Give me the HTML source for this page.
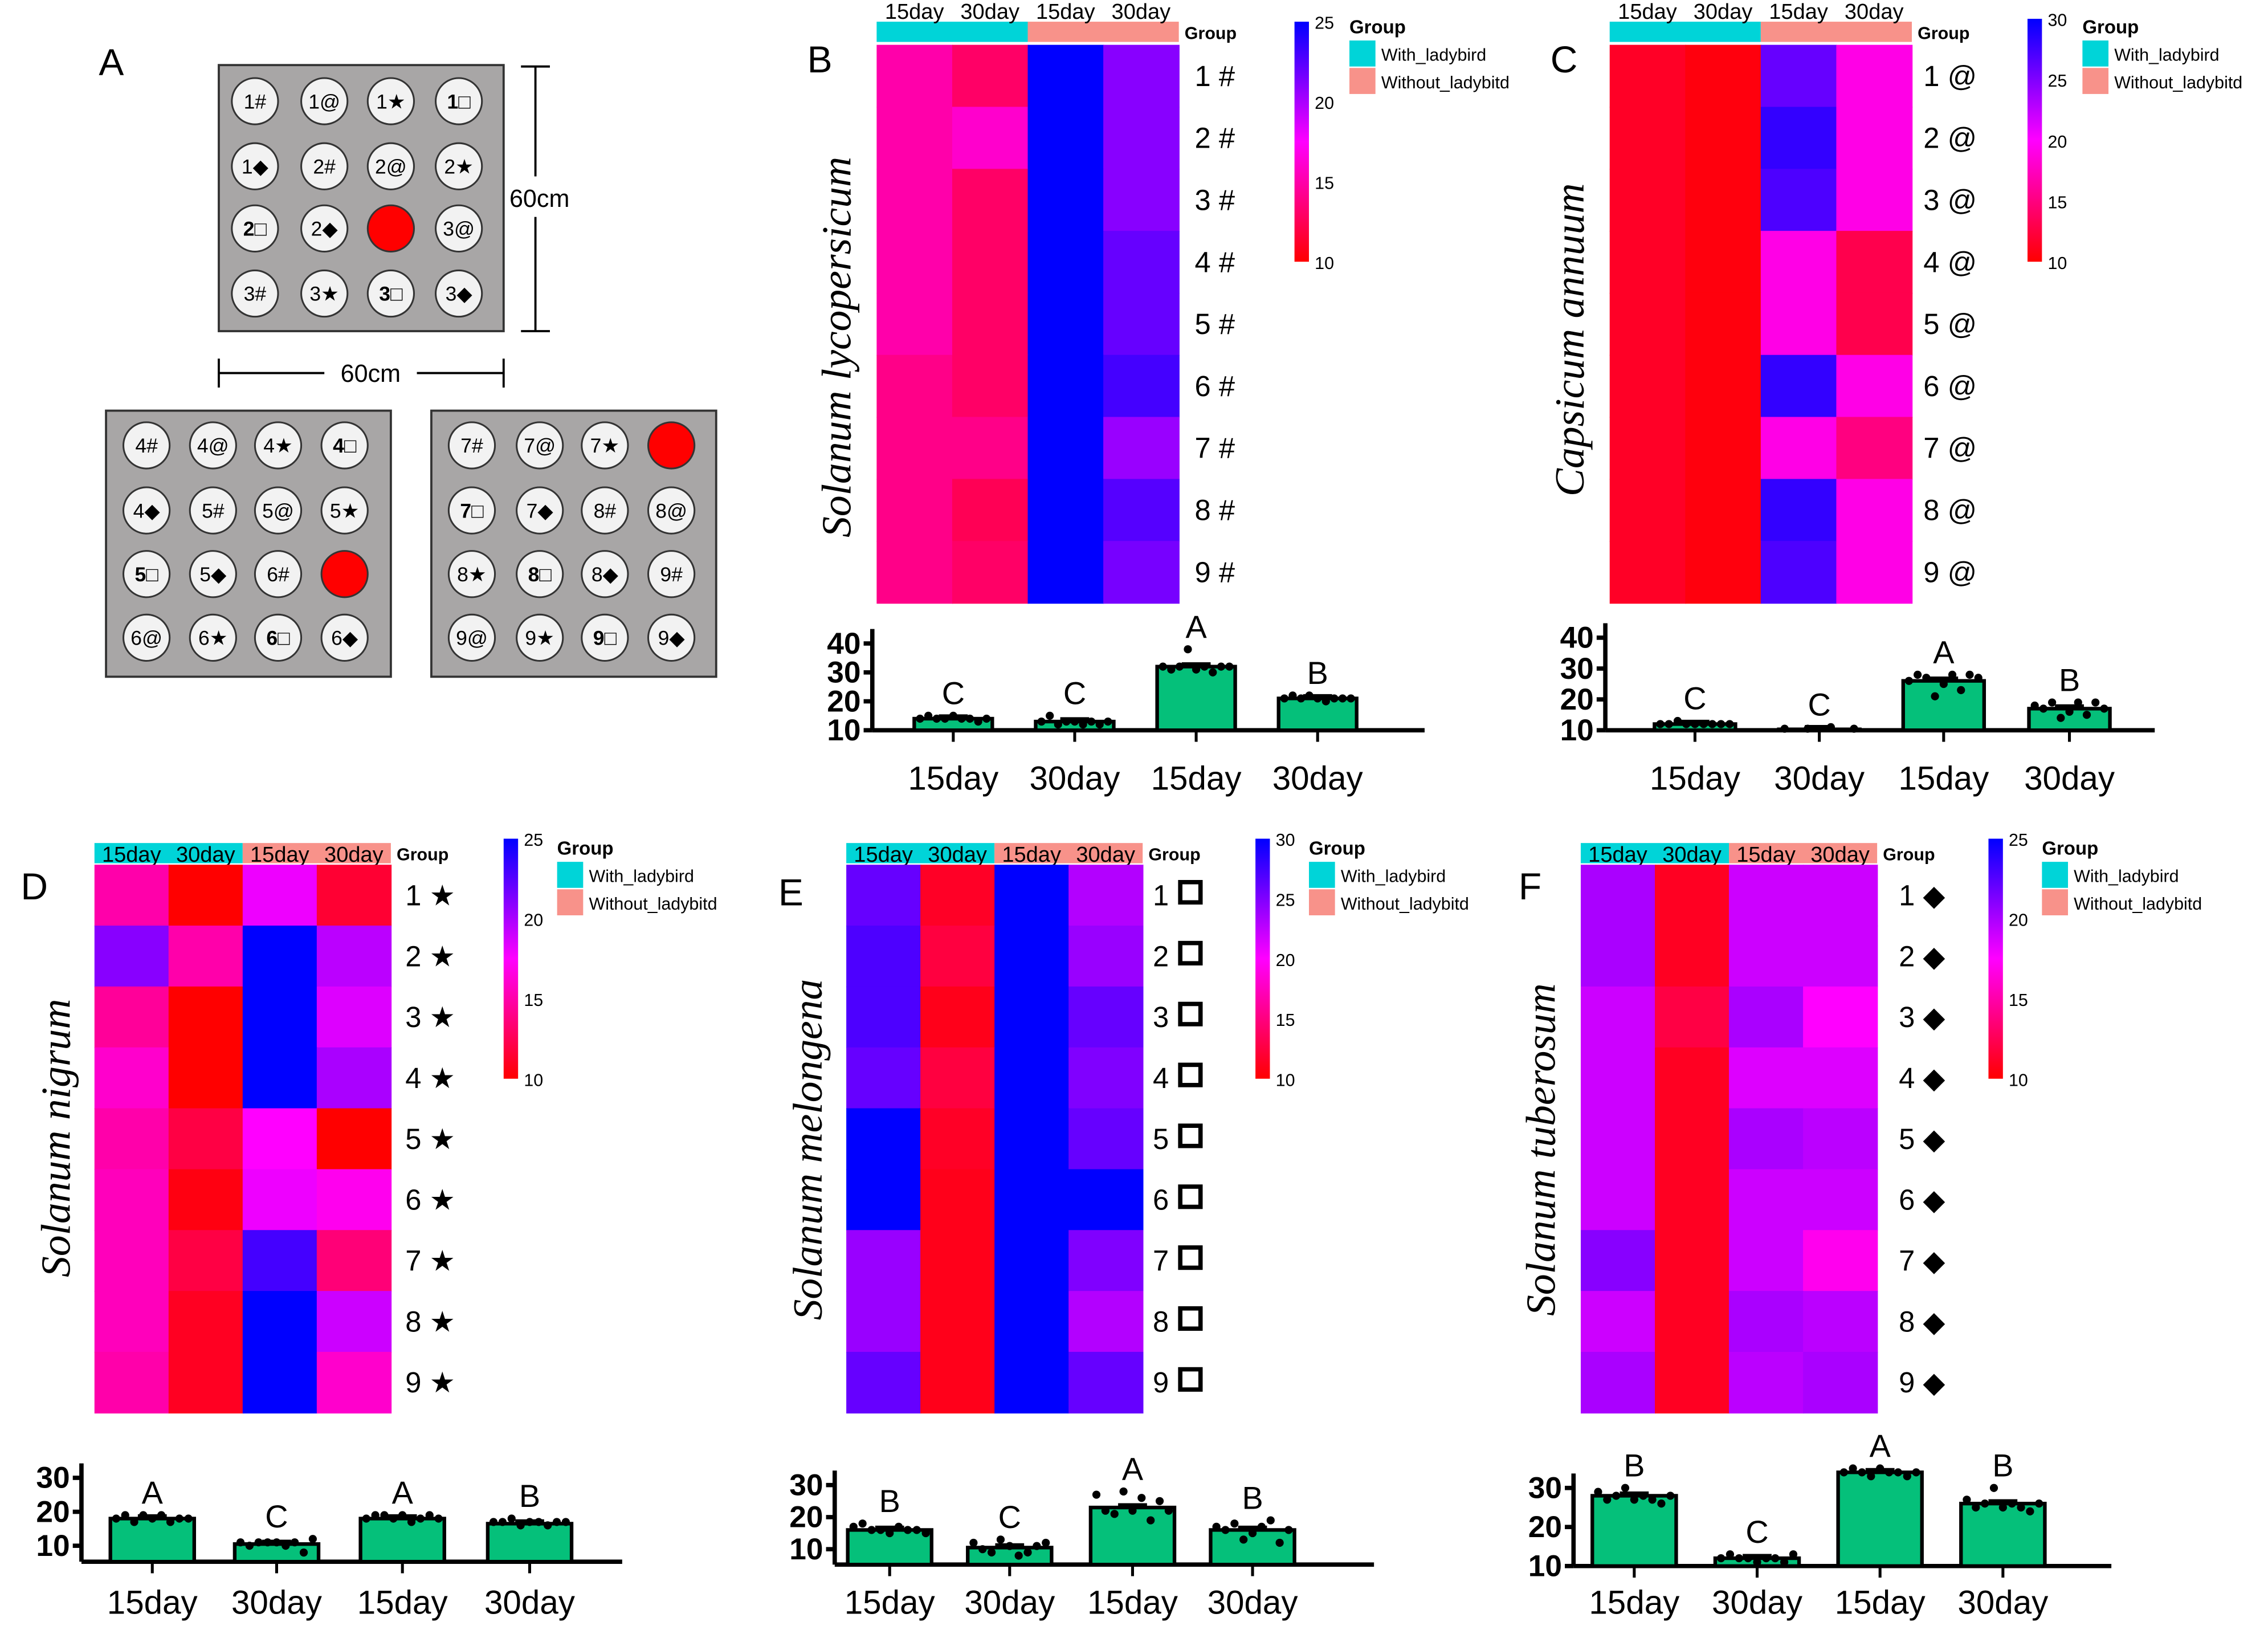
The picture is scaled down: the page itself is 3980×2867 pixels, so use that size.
<!DOCTYPE html>
<html><head><meta charset="utf-8"><style>html,body{margin:0;padding:0;background:#fff}svg{display:block}</style></head>
<body>
<svg id="fig" xmlns="http://www.w3.org/2000/svg" width="3980" height="2867" viewBox="0 0 1568 1130" font-family="Liberation Sans, sans-serif">
<defs>
<linearGradient id="cbar" x1="0" y1="1" x2="0" y2="0"><stop offset="0" stop-color="#ff0000"/><stop offset="0.5" stop-color="#ff00ff"/><stop offset="1" stop-color="#0000ff"/></linearGradient>
</defs>
<rect width="1568" height="1130" fill="#fff"/>
<g id="panelA"></g>
<g id="charts"></g>
</svg>
<script>
// ---------- DATA ----------
const colLabels = ["15day","30day","15day","30day"];
const barLetters = {B:["C","C","A","B"],C:["C","C","A","B"],D:["A","C","A","B"],E:["B","C","A","B"],F:["B","C","A","B"]};
const heatB = [[15,13,25,21],[15,16,25,21],[15,13,25,21],[15,13,25,22],[15,13,25,22],[14,13,25,23],[14,14,25,20.5],[14,12.5,25,22.5],[14,13,25,21.5]];
const heatC = [[11.5,10.5,26,19],[11.5,10.5,28,19],[11.5,10.5,27,19],[11.5,10.5,19,13],[11.5,10.5,19,13],[11.5,10.5,28,19],[11.5,10.5,19,15],[11.5,10.5,28,19],[11.5,10.5,27,19]];
const heatD = [[15,10,18,11.5],[21,15,25,19.5],[14.5,10,25,18.5],[16,10,25,20],[15,12,17.5,10],[15.5,10.5,18,17],[15.5,12,23,13.5],[15.5,11,25,19],[15,11,25,16]];
const heatE = [[26,11.5,30,23],[27,12.5,30,24],[27,11,30,26],[26,12.5,30,25],[30,11.5,30,26],[30,11,30,30],[24,11,30,25],[24,11,30,23],[26,11,30,26]];
const heatF = [[20,11,19,19],[20,11,19,19],[19,12,20,17.5],[19,11,18.5,18.5],[19,11,20,19.5],[19,11,19,19],[21,11,19,17],[19,11,20,19.5],[20,11,19.5,20]];
const barsB = [14,13,32,21];
const barsC = [12,10.3,26,17];
const barsD = [18,10.5,18,16.5];
const barsE = [16,10.5,23,16];
const barsF = [28,12,34,26];
const dotsB = [[14,15,14,14,15,14,14,13,14],[13,15,12,13,13,12,13,12,13],[32,31,32,38,31,32,30,32,32],[21,22,21,22,21,20,21,21,21]];
const dotsC = [[12,12,13,12,12,12,12,12,12],[10.5,10.5,11,10.5],[26,28,27,21,25,28,23,28,27],[18,17,19,14,16,19,15,19,17]];
const dotsD = [[18,19,17,19,18,19,17,18,18],[11,10,11,11,11,10,11,8,12],[18,19,19,18,19,17,18,19,18],[17,17,18,16,17,17,16,17,17]];
const dotsE = [[17,18,16,16,15,17,16,16,15],[12,10,9,13,11,8,9,11,12],[27,22,21,28,22,26,19,25,22],[17,16,18,13,15,17,19,12,16]];
const dotsF = [[29,27,28,30,27,28,27,26,28],[12,13,12,12,11,12,12,11,13],[34,35,34,33,35,34,34,33,34],[27,25,26,30,25,26,25,24,26]];
const tickB = [10,20,30,40], tickC=[10,20,30,40], tickD=[10,20,30], tickE=[10,20,30], tickF=[10,20,30];
// ---------- LAYOUT ----------
const NS="http://www.w3.org/2000/svg";
function mk(tag,attrs,parent,txt){const e=document.createElementNS(NS,tag);for(const k in attrs)e.setAttribute(k,attrs[k]);if(txt!==undefined)e.textContent=txt;parent.appendChild(e);return e;}
function cmap(v,lo,hi){let t=Math.max(0,Math.min(1,(v-lo)/(hi-lo)));let r,b;if(t<0.5){r=255;b=Math.round(510*t);}else{r=Math.round(255*(2-2*t));b=255;}return `rgb(${r},0,${b})`;}
const panels=[
 {id:"B",heat:heatB,bars:barsB,dots:dotsB,ticks:tickB,hx:606,hy:31,hw:209,hh:386,annY:15,annLblY:13,lo:10,hi:25,cbx:895,cby:15,cbh:166,lgx:933,lgy:12,rowX:826,sym:"#",sp:"Solanum lycopersicum",spx:588,spy:240,lx:558,ly:50,
  ax:603,axEnd:985,base:505,vmin:10,vmax:40,ytop:445,cx:[659,743,827,911],bw:54,xly:546},
 {id:"C",heat:heatC,bars:barsC,dots:dotsC,ticks:tickC,hx:1113,hy:31,hw:209,hh:386,annY:15,annLblY:13,lo:10,hi:30,cbx:1402,cby:13,cbh:168,lgx:1440,lgy:12,rowX:1330,sym:"@",sp:"Capsicum annuum",spx:1095,spy:235,lx:1072,ly:50,
  ax:1110,axEnd:1490,base:505,vmin:10,vmax:40,ytop:441,cx:[1172,1258,1344,1431],bw:56,xly:546},
 {id:"D",heat:heatD,bars:barsD,dots:dotsD,ticks:tickD,hx:65,hy:598,hw:205,hh:379,annY:583,annLblY:596,lo:10,hi:25,cbx:348,cby:580,cbh:166,lgx:385,lgy:580,rowX:280,sym:"★",sp:"Solanum nigrum",spx:48,spy:787,lx:14,ly:622,
  ax:56,axEnd:430,base:1080,vmin:5.3,vmax:30,ytop:1022,cx:[105,191,278,366],bw:58,xly:1116},
 {id:"E",heat:heatE,bars:barsE,dots:dotsE,ticks:tickE,hx:585,hy:598,hw:205,hh:379,annY:583,annLblY:596,lo:10,hi:30,cbx:868,cby:580,cbh:166,lgx:905,lgy:580,rowX:797,sym:"□",sp:"Solanum melongena",spx:568,spy:795,lx:538,ly:626,
  ax:577,axEnd:950,base:1082,vmin:5.2,vmax:30,ytop:1027,cx:[615,698,783,866],bw:58,xly:1116},
 {id:"F",heat:heatF,bars:barsF,dots:dotsF,ticks:tickF,hx:1093,hy:598,hw:205,hh:379,annY:583,annLblY:596,lo:10,hi:25,cbx:1375,cby:580,cbh:166,lgx:1412,lgy:580,rowX:1313,sym:"◆",sp:"Solanum tuberosum",spx:1075,spy:795,lx:1050,ly:622,
  ax:1088,axEnd:1460,base:1083,vmin:10,vmax:30,ytop:1029,cx:[1130,1215,1300,1385],bw:58,xly:1116}
];
const root=document.getElementById('charts');
panels.forEach(p=>{
 const g=mk('g',{},root);
 
 
 const lt=mk('text',{x:p.lx,y:p.ly,'font-size':26},g,p.id);
 
 
 const cw=p.hw/4, rh=p.hh/9;
 const a1=mk('rect',{x:p.hx,y:p.annY,width:cw*2,height:14,fill:'#00d4d8'},g);
 
 
 const a2=mk('rect',{x:p.hx+cw*2,y:p.annY,width:cw*2,height:14,fill:'#f8928a'},g);
 
 
 colLabels.forEach((c,i)=>{const t=mk('text',{x:p.hx+cw*i+cw/2,y:p.annLblY,'font-size':15,'text-anchor':'middle'},g,c);
  
  });
 const gt=mk('text',{x:p.hx+p.hw+4,y:p.annY+12,'font-size':12,'font-weight':'bold'},g,'Group');
 
 
 p.heat.forEach((row,r)=>row.forEach((v,c)=>{
  const e=mk('rect',{x:p.hx+c*cw,y:p.hy+r*rh,width:cw+0.5,height:rh+0.5,fill:cmap(v,p.lo,p.hi)},g);
  
  
 }));
 for(let r=0;r<9;r++){
  const y=p.hy+r*rh+rh/2+7;
  const t=mk('text',{x:p.rowX,y:y,'font-size':20},g,(r+1)+' '+(p.sym==='□'?'':p.sym));
  
  
  if(p.sym==='□'){const s=mk('rect',{x:p.rowX+19,y:y-16,width:14,height:14,fill:'none',stroke:'#000','stroke-width':3},g);
   
   }
 }
 const cb=mk('rect',{x:p.cbx,y:p.cby,width:10,height:p.cbh,fill:'url(#cbar)'},g);
 
 
 const cticks=[];for(let v=p.lo;v<=p.hi;v+=5)cticks.push(v);
 cticks.forEach(v=>{const y=p.cby+p.cbh-(v-p.lo)/(p.hi-p.lo)*p.cbh;
  const t=mk('text',{x:p.cbx+14,y:y+5,'font-size':12},g,String(v));
  
  });
 const lg=mk('text',{x:p.lgx,y:p.lgy+11,'font-size':13,'font-weight':'bold'},g,'Group');
 
 
 [['#00d4d8','With_ladybird'],['#f8928a','Without_ladybitd']].forEach((L,i)=>{
  const s=mk('rect',{x:p.lgx,y:p.lgy+16+i*19,width:18,height:18,fill:L[0]},g);
  
  
  const t=mk('text',{x:p.lgx+22,y:p.lgy+30+i*19,'font-size':12},g,L[1]);
  
  
 });
 const sp=mk('text',{x:p.spx,y:p.spy,'font-size':29,'font-style':'italic','font-family':'Liberation Serif, serif','text-anchor':'middle',transform:`rotate(-90 ${p.spx} ${p.spy})`},g,p.sp);
 
 
 const yS=v=>p.base-(v-p.vmin)/(p.vmax-p.vmin)*(p.base-p.ytop);
 const ya=mk('line',{x1:p.ax,y1:p.ytop-10,x2:p.ax,y2:p.base,stroke:'#000','stroke-width':3},g);
 
 
 const xa=mk('line',{x1:p.ax,y1:p.base,x2:p.axEnd,y2:p.base,stroke:'#000','stroke-width':3},g);
 
 
 p.ticks.forEach(v=>{const y=yS(v);
  mk('line',{x1:p.ax-6,y1:y,x2:p.ax,y2:y,stroke:'#000','stroke-width':3},g);
  const t=mk('text',{x:p.ax-8,y:y+7,'font-size':21,'font-weight':'bold','text-anchor':'end'},g,String(v));
  
  });
 p.bars.forEach((v,i)=>{
  const cx=p.cx[i], y=yS(v);
  const b=mk('rect',{x:cx-p.bw/2,y:y,width:p.bw,height:p.base-y,fill:'#05c07a',stroke:'#000','stroke-width':2.5},g);
  
  
  mk('line',{x1:cx-10,y1:y-2,x2:cx+10,y2:y-2,stroke:'#000','stroke-width':2},g);
  const d=p.dots[i];
  d.forEach((dv,k)=>{const dx=cx-p.bw/2+4+k*(p.bw-8)/Math.max(1,d.length-1);
   const c=mk('circle',{cx:dx,cy:yS(dv),r:2.8,fill:'#000'},g);
   
   });
  const top=Math.min(y,...d.map(yS));
  const lt2=mk('text',{x:cx,y:top-8,'font-size':22,'text-anchor':'middle'},g,barLetters[p.id][i]);
  
  
  mk('line',{x1:cx,y1:p.base,x2:cx,y2:p.base+8,stroke:'#000','stroke-width':2},g);
  const xl=mk('text',{x:cx,y:p.xly,'font-size':23,'text-anchor':'middle'},g,colLabels[i]);
  
  
 });
});
// ---------- PANEL A ----------
const A=document.getElementById('panelA');
const plates=[
 {x:151,y:45,cx:[176,224,270,317],cy:[70,115,158,203],labels:[["1#","1@","1★","1□"],["1◆","2#","2@","2★"],["2□","2◆","RED","3@"],["3#","3★","3□","3◆"]]},
 {x:73,y:284,cx:[101,147,192,238],cy:[308,353,397,441],labels:[["4#","4@","4★","4□"],["4◆","5#","5@","5★"],["5□","5◆","6#","RED"],["6@","6★","6□","6◆"]]},
 {x:298,y:284,cx:[326,373,418,464],cy:[308,353,397,441],labels:[["7#","7@","7★","RED"],["7□","7◆","8#","8@"],["8★","8□","8◆","9#"],["9@","9★","9□","9◆"]]}
];
const at=mk('text',{x:68,y:52,'font-size':26},A,'A');


plates.forEach(pl=>{
 const r=mk('rect',{x:pl.x,y:pl.y,width:197,height:184,fill:'#a8a6a6',stroke:'#333','stroke-width':1.5},A);
 
 
 pl.labels.forEach((row,ri)=>row.forEach((L,ci)=>{
  const red=L==="RED";
  const c=mk('circle',{cx:pl.cx[ci],cy:pl.cy[ri],r:16,fill:red?'#ff0000':'#f2f2f2',stroke:'#333','stroke-width':1.2},A);
  
  
  if(!red){const t=mk('text',{x:pl.cx[ci],y:pl.cy[ri]+5,'font-size':14,'text-anchor':'middle','font-weight':L.includes('□')?'bold':'normal'},A,L);
   
   }
 }));
});
[[370,46,370,122],[370,150,370,229],[360,46,380,46],[360,229,380,229],[151,258,224,258],[288,258,348,258],[151,248,151,268],[348,248,348,268]].forEach(l=>mk('line',{x1:l[0],y1:l[1],x2:l[2],y2:l[3],stroke:'#000','stroke-width':1.5},A));
const s1=mk('text',{x:352,y:143,'font-size':17},A,'60cm');


const s2=mk('text',{x:256,y:264,'font-size':17,'text-anchor':'middle'},A,'60cm');


</script>
</body></html>
